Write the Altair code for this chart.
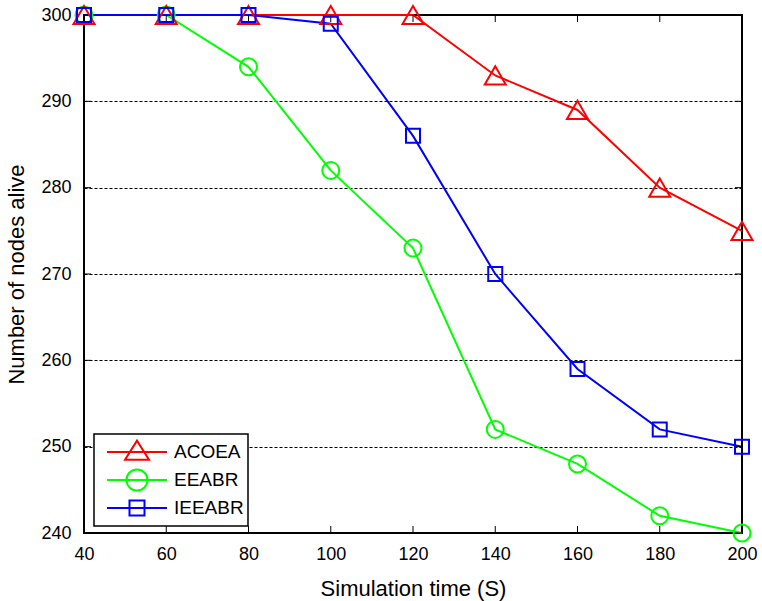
import altair as alt
import pandas as pd

# ---- data ----
sim_time = [40, 60, 80, 100, 120, 140, 160, 180, 200]
acoea = [300, 300, 300, 300, 300, 293, 289, 280, 275]
eeabr = [300, 300, 294, 282, 273, 252, 248, 242, 240]
ieeabr = [300, 300, 300, 299, 286, 270, 259, 252, 250]

series_names = ["ACOEA", "EEABR", "IEEABR"]
series_colors = ["#FF0000", "#00FF00", "#0000FF"]
point_shapes = {"ACOEA": "triangle-up", "EEABR": "circle", "IEEABR": "square"}
point_sizes = {"ACOEA": 441, "EEABR": 289, "IEEABR": 196}
legend_paths = [
    "M-1,0L1,0M0,-0.38L-0.4,0.26L0.4,0.26Z",
    "M-1,0L1,0M-0.35,0A0.35,0.35,0,1,1,0.35,0A0.35,0.35,0,1,1,-0.35,0Z",
    "M-1,0L1,0M-0.25,-0.25L0.25,-0.25L0.25,0.25L-0.25,0.25Z",
]
x_ticks = [40, 60, 80, 100, 120, 140, 160, 180, 200]
y_ticks = [240, 250, 260, 270, 280, 290, 300]

FONT = "Liberation Sans"
W, H = 658, 518

draw_order = ["EEABR", "ACOEA", "IEEABR"]
rows = []
for name, vals in [("ACOEA", acoea), ("EEABR", eeabr), ("IEEABR", ieeabr)]:
    for t, v in zip(sim_time, vals):
        rows.append({"time": t, "alive": v, "series": name,
                     "order": draw_order.index(name)})
df = pd.DataFrame(rows)

xt = pd.DataFrame({"time": x_ticks})
yt = pd.DataFrame({"alive": y_ticks})

x_scale = alt.Scale(domain=[40, 200], nice=False, zero=False)
y_scale = alt.Scale(domain=[240, 300], nice=False, zero=False)
color_scale = alt.Scale(domain=series_names, range=series_colors)

x_axis = alt.Axis(values=x_ticks, title="Simulation time (S)", grid=False,
                  tickSize=0, domain=False, labelPadding=12, titlePadding=15,
                  labelFlush=False,
                  labelFontSize=18, titleFontSize=22, labelFont=FONT,
                  titleFont=FONT, labelColor="black", titleColor="black",
                  titleFontWeight="normal")
y_axis = alt.Axis(values=y_ticks, title="Number of nodes alive", grid=True,
                  gridDash=[3, 2], gridColor="black", gridWidth=1, gridOpacity=1,
                  tickSize=0, domain=False, labelPadding=13, titlePadding=12,
                  labelFlush=False,
                  labelFontSize=18, titleFontSize=22, labelFont=FONT,
                  titleFont=FONT, labelColor="black", titleColor="black",
                  titleFontWeight="normal")

legend_kw = dict(
    orient="none", legendX=10, legendY=419, title=None,
    strokeColor="black", fillColor="white", padding=4, symbolOffset=8,
    symbolSize=3600, symbolStrokeWidth=2, symbolOpacity=1,
    symbolFillColor="transparent", clipHeight=28, rowPadding=0,
    labelFontSize=19, labelFont=FONT, labelColor="black", labelOffset=6,
    labelExpr="datum.label + '\u00a0\u00a0'",
)
legend = alt.Legend(**legend_kw)

x_enc = alt.X("time:Q", scale=x_scale, axis=x_axis)
y_enc = alt.Y("alive:Q", scale=y_scale, axis=y_axis)
color_enc = alt.Color("series:N", scale=color_scale, legend=legend)

base = alt.Chart(df)

lines = base.mark_line(strokeWidth=2).encode(
    x=x_enc, y=y_enc, color=color_enc, order=alt.Order("order:Q"),
)

point_layers = []
for name in draw_order:
    point_layers.append(
        base.transform_filter(alt.datum.series == name).mark_point(
            filled=False, strokeWidth=2, opacity=1, clip=False,
            shape=point_shapes[name], size=point_sizes[name],
        ).encode(x=x_enc, y=y_enc, color=color_enc)
    )

legend_layer = base.mark_point(filled=False, opacity=0, strokeWidth=2).encode(
    x=x_enc, y=y_enc, color=color_enc,
    shape=alt.Shape("series:N", scale=alt.Scale(domain=series_names, range=legend_paths),
                    legend=legend),
)

tick_len = 7
xb = alt.Chart(xt).mark_rule(color="black", strokeWidth=1).encode(
    x=x_enc, y=alt.value(H), y2=alt.value(H - tick_len))
xtop = alt.Chart(xt).mark_rule(color="black", strokeWidth=1).encode(
    x=x_enc, y=alt.value(0), y2=alt.value(tick_len))
yl = alt.Chart(yt).mark_rule(color="black", strokeWidth=1).encode(
    y=y_enc, x=alt.value(0), x2=alt.value(tick_len))
yr = alt.Chart(yt).mark_rule(color="black", strokeWidth=1).encode(
    y=y_enc, x=alt.value(W), x2=alt.value(W - tick_len))

chart = alt.layer(lines, xb, xtop, yl, yr, *point_layers, legend_layer).properties(
    width=W, height=H,
    padding={"left": 84, "top": 15, "right": 20, "bottom": 68},
    autosize=alt.AutoSizeParams(type="none"),
    background="white",
).configure_view(
    stroke="black", strokeWidth=2
).configure_legend(
    strokeWidth=1.5
)

chart.save("out.html", embed_options={"renderer": "svg", "actions": False})
